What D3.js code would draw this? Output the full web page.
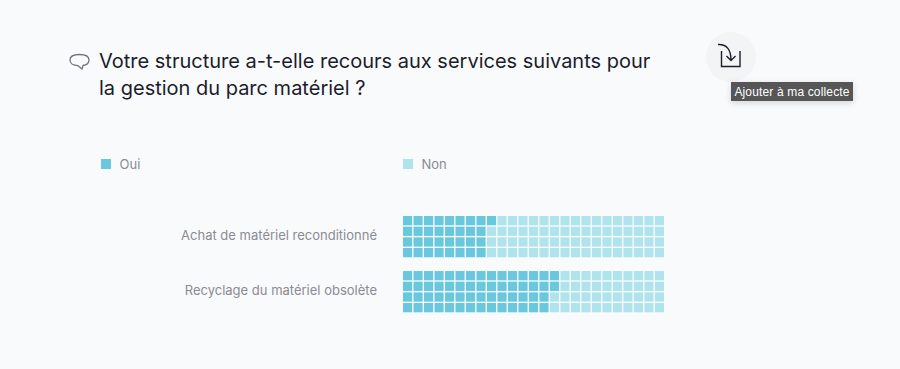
<!DOCTYPE html>
<html lang="fr">
<head>
<meta charset="utf-8">
<script src="https://cdn.jsdelivr.net/npm/d3@7"></script>
<style>
  html, body { margin: 0; padding: 0; background: #f9fafc; }
  svg { display: block; }
  text { font-family: Inter, "Noto Sans", sans-serif; }
</style>
</head>
<body>
<div id="canvas"></div>
<script>
"use strict";

// data
let categories = ["Achat de matériel reconditionné", "Recyclage du matériel obsolète"];
let ouiValues = [33, 58];
let legendLabels = ["Oui", "Non"];
let titleLines = ["Votre structure a-t-elle recours aux services suivants pour", "la gestion du parc matériel ?"];
let tooltipLabel = "Ajouter à ma collecte";

let colorOui = "#6ac8de";
let colorNon = "#b0e4ed";

let width = 900;
let height = 369;

let svg = d3.select("#canvas")
  .append("svg")
  .attr("width", width)
  .attr("height", height);

let defs = svg.append("defs");
defs.append("filter")
  .attr("id", "tipShadow")
  .attr("x", "-10%")
  .attr("y", "-30%")
  .attr("width", "120%")
  .attr("height", "170%")
  .append("feDropShadow")
  .attr("dx", 0)
  .attr("dy", 2)
  .attr("stdDeviation", 3)
  .attr("flood-color", "#000000")
  .attr("flood-opacity", 0.15);

// title
svg.selectAll(".title")
  .data(titleLines)
  .enter()
  .append("text")
  .attr("class", "title")
  .attr("x", 99)
  .attr("y", (d, i) => 68 + i * 27)
  .attr("fill", "#1c1d2b")
  .style("font-size", "20px")
  .style("font-weight", 400)
  .text(d => d);

// speech bubble
svg.append("path")
  .attr("d", "M79.5 54.5 C73 54.5 70 57 70 60 C70 63 73 65.5 78 65.7 L82 69 L83 65.5 C86.5 65 89 63 89 60 C89 57 86 54.5 79.5 54.5 Z")
  .attr("fill", "none")
  .attr("stroke", "#70727c")
  .attr("stroke-width", 1.3)
  .attr("stroke-linejoin", "round");

// save button
svg.append("circle")
  .attr("cx", 731)
  .attr("cy", 57)
  .attr("r", 25)
  .attr("fill", "#f3f4f6");

svg.append("path")
  .attr("d", "M721.5 51 V66.5 H740 V51")
  .attr("fill", "none")
  .attr("stroke", "#1c1d2b")
  .attr("stroke-width", 1.4);

svg.append("path")
  .attr("d", "M718 44.5 C727 44 731 50 731 60 M726.5 56 L731 60.5 L735.5 56")
  .attr("fill", "none")
  .attr("stroke", "#1c1d2b")
  .attr("stroke-width", 1.4);

// tooltip
svg.append("rect")
  .attr("x", 731)
  .attr("y", 82)
  .attr("width", 122)
  .attr("height", 19)
  .attr("fill", "#565656")
  .attr("filter", "url(#tipShadow)");

svg.append("text")
  .attr("x", 792)
  .attr("y", 96)
  .attr("text-anchor", "middle")
  .attr("fill", "#ffffff")
  .style("font-family", "'Liberation Sans', sans-serif")
  .style("font-size", "12px")
  .style("letter-spacing", "0.15px")
  .text(tooltipLabel);

// legend
let legendX = d3.scalePoint()
  .domain(legendLabels)
  .range([101, 403]);

let legend = svg.selectAll(".legend")
  .data(legendLabels)
  .enter()
  .append("g")
  .attr("class", "legend")
  .attr("transform", d => `translate(${legendX(d)}, 159)`);

legend.append("rect")
  .attr("width", 10)
  .attr("height", 10)
  .attr("fill", (d, i) => i === 0 ? colorOui : colorNon);

legend.append("text")
  .attr("x", 18.5)
  .attr("y", 9.5)
  .attr("fill", "#8a8b93")
  .style("font-size", "13px")
  .text(d => d);

// waffle scales
let columns = d3.range(25);
let rows = d3.range(4);

let xScale = d3.scaleBand()
  .domain(columns)
  .range([403, 664])
  .paddingInner(0.13);

let yGroup = d3.scaleBand()
  .domain(categories)
  .range([216, 312.3])
  .paddingInner(0.25);

let yRow = d3.scaleBand()
  .domain(rows)
  .range([0, yGroup.bandwidth()])
  .paddingInner(0.13);

// one cell per percent, filled column by column from the top
let group = svg.selectAll(".waffle")
  .data(categories.map((name, i) => ({ name: name, oui: ouiValues[i] })))
  .enter()
  .append("g")
  .attr("class", "waffle")
  .attr("transform", d => `translate(0, ${yGroup(d.name)})`);

group.append("text")
  .attr("x", 377)
  .attr("y", yGroup.bandwidth() / 2 + 3)
  .attr("text-anchor", "end")
  .attr("fill", "#8a8b93")
  .style("font-size", "13px")
  .text(d => d.name);

group.selectAll("rect")
  .data(d => d3.range(100).map(n => ({ n: n, oui: d.oui })))
  .enter()
  .append("rect")
  .attr("x", d => xScale(Math.floor(d.n / rows.length)))
  .attr("y", d => yRow(d.n % rows.length))
  .attr("width", xScale.bandwidth())
  .attr("height", yRow.bandwidth())
  .attr("fill", d => d.n < d.oui ? colorOui : colorNon);
</script>
</body>
</html>
